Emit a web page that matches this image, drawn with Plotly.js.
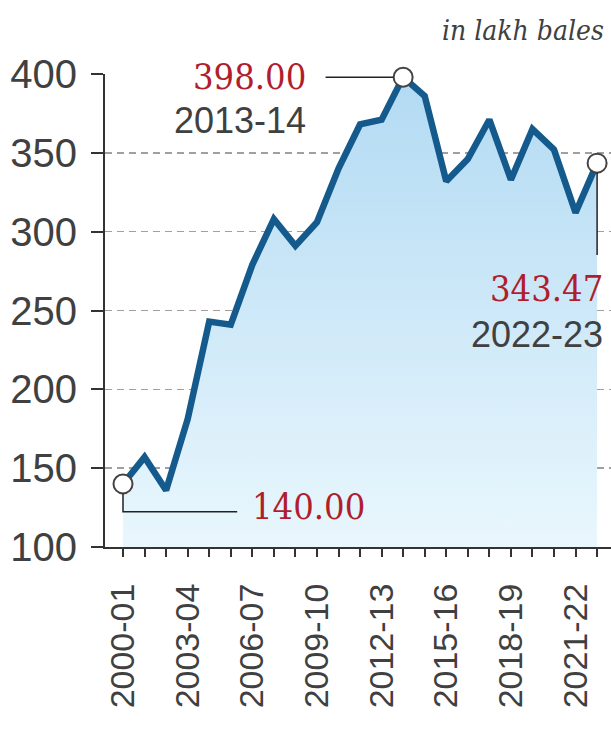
<!DOCTYPE html>
<html>
<head>
<meta charset="utf-8">
<script src="https://cdn.plot.ly/plotly-3.0.1.min.js"></script>
<style>html,body{margin:0;padding:0;background:#fff;}#chart{width:611px;height:731px;}</style>
</head>
<body>
<div id="chart"></div>
<script>
// Cotton production, in lakh bales
const seasons = ["2000-01","2001-02","2002-03","2003-04","2004-05","2005-06","2006-07","2007-08","2008-09","2009-10","2010-11","2011-12","2012-13","2013-14","2014-15","2015-16","2016-17","2017-18","2018-19","2019-20","2020-21","2021-22","2022-23"];
const production = [140.00,157,136,181,243,241,279,308,291,306,340,368,371,398.00,386,332,346,371,333,365,352,312,343.47];
const highlighted = [0, 13, 22];
const yTicks = [100,150,200,250,300,350,400];

const idx = seasons.map((s,i)=>i);
const tickText = seasons.map((s,i)=> i % 3 === 0 ? s : '');
const fmt = v => v.toFixed(2);

const RED = '#b01e2d', GRAY = '#404040';
const SERIF = '"DejaVu Serif Condensed", "DejaVu Serif", serif';
const SANS = '"Liberation Sans", Arial, sans-serif';

const first = highlighted[0], peak = highlighted[1], last = highlighted[2];

const traces = [
  {
    x: idx, y: production, type: 'scatter', mode: 'lines',
    line: {color: '#145a8c', width: 6.5, shape: 'linear'},
    fill: 'tozeroy',
    fillgradient: {type: 'vertical', start: 100, stop: 400,
      colorscale: [[0, '#e9f7fd'], [1, '#b2daf3']]},
    hoverinfo: 'skip', showlegend: false
  },
  {
    x: highlighted.map(i=>idx[i]), y: highlighted.map(i=>production[i]),
    type: 'scatter', mode: 'markers', cliponaxis: false,
    marker: {symbol: 'circle', size: 19, color: '#ffffff', line: {color: '#444', width: 2}},
    hoverinfo: 'skip', showlegend: false
  }
];

const shapes = [
  {type: 'line', xref: 'x', yref: 'y', x0: peak - 3.6, x1: peak - 0.45, y0: production[peak], y1: production[peak], line: {color: '#222', width: 1.5}},
  {type: 'path', xref: 'x', yref: 'y', path: `M ${first},${production[first]-6} L ${first},122.3 L ${first+5.3},122.3`, line: {color: '#222', width: 1.5}},
  {type: 'line', xref: 'x', yref: 'y', x0: last, x1: last, y0: production[last]-6, y1: 285.2, line: {color: '#222', width: 1.5}}
];

const annotations = [
  {xref: 'paper', yref: 'paper', x: 1, y: 1.093, xanchor: 'right', yanchor: 'middle', xshift: -5, showarrow: false,
   text: '<i>in lakh bales</i>', font: {family: SERIF, size: 28, color: GRAY}},
  {xref: 'x', yref: 'y', x: peak - 4.42, y: 398.7, xanchor: 'right', yanchor: 'middle', showarrow: false,
   text: fmt(production[peak]), font: {family: SERIF, size: 36, color: RED}},
  {xref: 'x', yref: 'y', x: peak - 4.42, y: 370.8, xanchor: 'right', yanchor: 'middle', showarrow: false,
   text: seasons[peak], font: {family: SANS, size: 36, color: GRAY}},
  {xref: 'x', yref: 'y', x: first + 5.9, y: 125.4, xanchor: 'left', yanchor: 'middle', showarrow: false,
   text: fmt(production[first]), font: {family: SERIF, size: 36, color: RED}},
  {xref: 'x', yref: 'y', x: last + 0.37, y: 263.7, xanchor: 'right', yanchor: 'middle', showarrow: false,
   text: fmt(production[last]), font: {family: SERIF, size: 36, color: RED}},
  {xref: 'x', yref: 'y', x: last + 0.37, y: 234.8, xanchor: 'right', yanchor: 'middle', showarrow: false,
   text: seasons[last], font: {family: SANS, size: 36, color: GRAY}}
];

const layout = {
  width: 611, height: 731,
  margin: {l: 105, r: 0, t: 74, b: 184, pad: 0},
  paper_bgcolor: '#ffffff', plot_bgcolor: '#ffffff',
  showlegend: false,
  xaxis: {
    range: [-0.835, 22.645], tickmode: 'array', tickvals: idx, ticktext: tickText,
    tickangle: -90, ticks: 'outside', ticklen: 8, tickwidth: 2, tickcolor: '#333',
    showline: true, linecolor: '#333', linewidth: 2, showgrid: false, zeroline: false,
    tickfont: {family: SANS, size: 34, color: GRAY}, ticklabelstandoff: 13
  },
  yaxis: {
    range: [100, 400], tickmode: 'array', tickvals: yTicks,
    ticks: 'outside', ticklen: 12, tickwidth: 2, tickcolor: '#333',
    showline: true, linecolor: '#333', linewidth: 2,
    showgrid: true, gridcolor: '#a0a0a0', gridwidth: 1.5, griddash: '7px,5px', zeroline: false,
    tickfont: {family: SANS, size: 40, color: GRAY}, ticklabelstandoff: 6
  },
  shapes: shapes,
  annotations: annotations
};

Plotly.newPlot('chart', traces, layout, {displayModeBar: false, staticPlot: true});
</script>
</body>
</html>
